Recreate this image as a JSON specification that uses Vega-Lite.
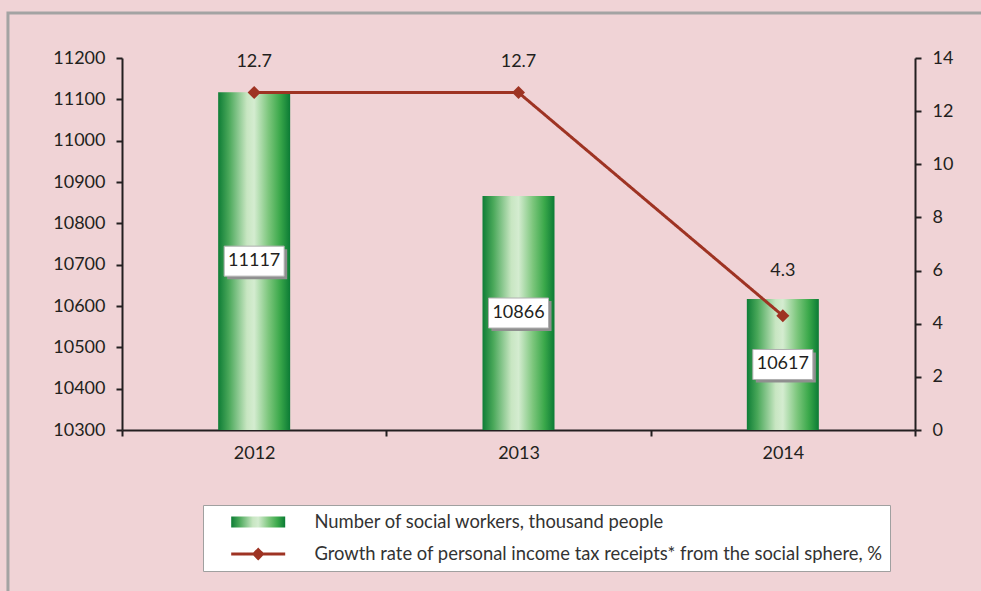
{
  "$schema": "https://vega.github.io/schema/vega-lite/v6.json",
  "width": 793,
  "height": 372,
  "autosize": {"type": "none"},
  "padding": {"left": 122, "top": 58, "right": 66, "bottom": 161},
  "background": "#f0d3d6",
  "config": {
    "view": {"stroke": null},
    "font": "Lato",
    "axis": {
      "title": null,
      "grid": false,
      "labelFont": "Lato",
      "labelFontSize": 18,
      "labelColor": "#231f20",
      "domainColor": "#231f20",
      "domainWidth": 2,
      "tickColor": "#231f20",
      "tickWidth": 2,
      "tickSize": 6
    }
  },
  "layer": [
    {
      "data": {"values": [{"frame": "outer"}]},
      "mark": {"type": "rect", "fill": "#000000", "fillOpacity": 0, "stroke": "#a3a3a3", "strokeWidth": 3},
      "encoding": {
        "x": {"datum": -0.1438, "type": "quantitative", "scale": {"domain": [0, 1], "nice": false, "zero": false}, "axis": null},
        "x2": {"datum": 1.2},
        "y": {"datum": 1.121, "type": "quantitative", "scale": {"domain": [0, 1], "nice": false, "zero": false}, "axis": null},
        "y2": {"datum": -0.8}
      }
    },
    {
      "data": {
        "values": [
          {"year": "2012", "workers": 11117, "rate": 12.7},
          {"year": "2013", "workers": 10866, "rate": 12.7},
          {"year": "2014", "workers": 10617, "rate": 4.3}
        ]
      },
      "encoding": {
        "x": {
          "field": "year",
          "type": "nominal",
          "scale": {"type": "band", "paddingInner": 0, "paddingOuter": 0},
          "axis": {"tickBand": "extent", "labelAngle": 0, "labelPadding": 8}
        }
      },
      "layer": [
        {
          "mark": {
            "type": "bar",
            "width": 72,
            "color": {
              "gradient": "linear",
              "x1": 0, "y1": 0, "x2": 1, "y2": 0,
              "stops": [
                {"offset": 0, "color": "#0e7d36"},
                {"offset": 0.15, "color": "#4aa85a"},
                {"offset": 0.4, "color": "#c8e6c2"},
                {"offset": 0.5, "color": "#d4ecd0"},
                {"offset": 0.7, "color": "#7cc67c"},
                {"offset": 0.86, "color": "#3aa84a"},
                {"offset": 1, "color": "#0b7b35"}
              ]
            }
          },
          "encoding": {
            "y": {
              "field": "workers",
              "type": "quantitative",
              "scale": {"domain": [10300, 11200], "nice": false, "zero": false},
              "axis": {"orient": "left", "values": [10300, 10400, 10500, 10600, 10700, 10800, 10900, 11000, 11100, 11200], "format": "d", "labelPadding": 11}
            },
            "y2": {"datum": 10300}
          }
        },
        {
          "encoding": {
            "y": {"field": "workers", "type": "quantitative", "scale": {"domain": [10300, 12100], "nice": false, "zero": false}, "axis": null}
          },
          "layer": [
            {"mark": {"type": "point", "shape": "M-1,-0.5L1,-0.5L1,0.5L-1,0.5Z", "size": 3600, "filled": true, "fill": "#8f8f8f", "opacity": 1, "strokeWidth": 0, "xOffset": 3, "yOffset": 3}},
            {"mark": {"type": "point", "shape": "M-1,-0.5L1,-0.5L1,0.5L-1,0.5Z", "size": 3600, "filled": true, "fill": "#ffffff", "stroke": "#b0b0b0", "strokeWidth": 1, "opacity": 1}},
            {"mark": {"type": "text", "fontSize": 18, "font": "Lato", "color": "#231f20"}, "encoding": {"text": {"field": "workers", "type": "quantitative", "format": "d"}}}
          ]
        },
        {
          "encoding": {
            "y": {
              "field": "rate",
              "type": "quantitative",
              "scale": {"domain": [0, 14], "nice": false},
              "axis": {"orient": "right", "values": [0, 2, 4, 6, 8, 10, 12, 14], "labelPadding": 11}
            }
          },
          "layer": [
            {
              "mark": {"type": "line", "color": "#9e3323", "strokeWidth": 3},
              "encoding": {
                "strokeDash": {
                  "datum": "Growth rate of personal income tax receipts* from the social sphere, %",
                  "type": "nominal",
                  "scale": {
                    "domain": ["Number of social workers, thousand people", "Growth rate of personal income tax receipts* from the social sphere, %"],
                    "range": [[1, 0], [1, 0]]
                  },
                  "legend": {
                    "orient": "none",
                    "legendX": 81,
                    "legendY": 447,
                    "title": null,
                    "direction": "vertical",
                    "fillColor": "#ffffff",
                    "strokeColor": "#a0a0a0",
                    "padding": 7,
                    "symbolSize": 2916,
                    "clipHeight": 20,
                    "rowPadding": 12,
                    "symbolOffset": 39,
                    "labelOffset": 47,
                    "labelFont": "Lato",
                    "labelFontSize": 18.4,
                    "labelColor": "#333333",
                    "labelLimit": 1000,
                    "symbolOpacity": 1,
                    "symbolType": {"expr": "datum.index === 0 ? 'M-1,-0.2L1,-0.2L1,0.2L-1,0.2Z' : 'M-1,0L1,0M-0.16,0L0,-0.16L0.16,0L0,0.16Z'"},
                    "symbolFillColor": {"expr": "datum.index === 0 ? {gradient: 'linear', x1: 0, y1: 0, x2: 1, y2: 0, stops: [{offset: 0, color: '#0e7d36'}, {offset: 0.15, color: '#4aa85a'}, {offset: 0.4, color: '#c8e6c2'}, {offset: 0.5, color: '#d4ecd0'}, {offset: 0.7, color: '#7cc67c'}, {offset: 0.86, color: '#3aa84a'}, {offset: 1, color: '#0b7b35'}]} : '#9e3323'"},
                    "symbolStrokeColor": "#9e3323",
                    "symbolStrokeWidth": {"expr": "datum.index === 0 ? 0 : 3"}
                  }
                }
              }
            },
            {
              "mark": {"type": "point", "shape": "diamond", "size": 170, "filled": true, "color": "#9e3323", "opacity": 1}
            },
            {
              "transform": [{"filter": "datum.rate > 8"}],
              "mark": {"type": "text", "dy": -31, "fontSize": 18, "font": "Lato", "color": "#231f20"},
              "encoding": {"text": {"field": "rate", "type": "quantitative", "format": ".1f"}}
            },
            {
              "transform": [{"filter": "datum.rate <= 8"}],
              "mark": {"type": "text", "dy": -45, "fontSize": 18, "font": "Lato", "color": "#231f20"},
              "encoding": {"text": {"field": "rate", "type": "quantitative", "format": ".1f"}}
            }
          ]
        }
      ],
      "resolve": {"scale": {"y": "independent"}}
    }
  ],
  "resolve": {"scale": {"x": "independent", "y": "independent"}}
}
